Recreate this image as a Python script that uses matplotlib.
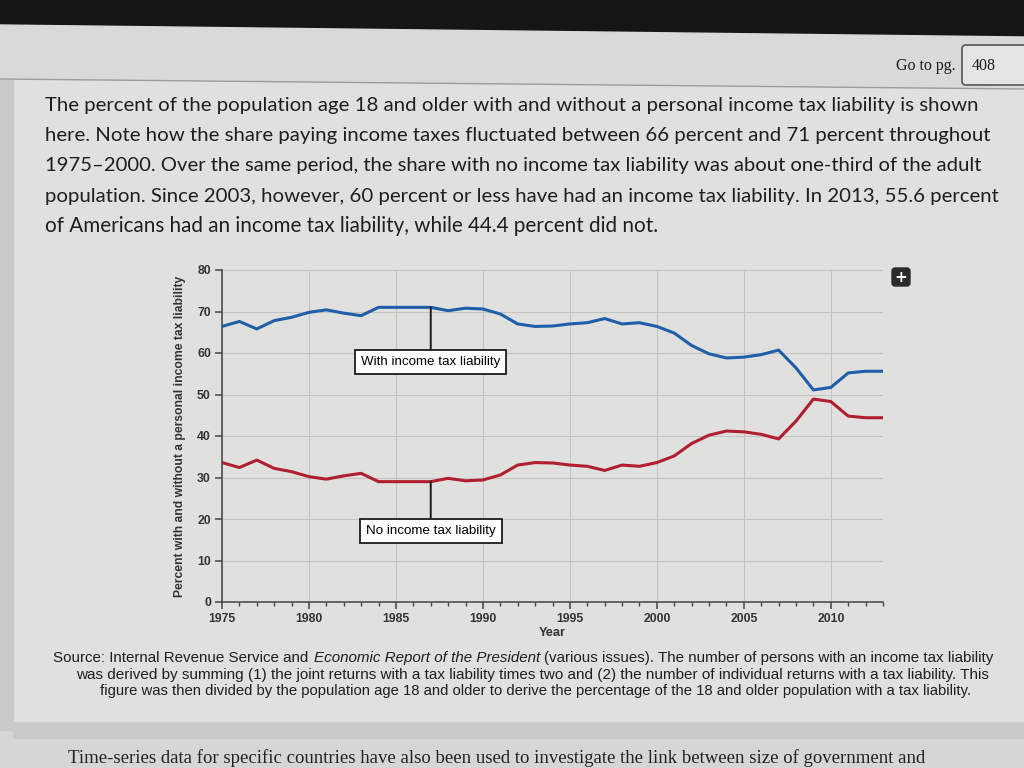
import matplotlib
matplotlib.use('Agg')
import matplotlib.pyplot as plt
from matplotlib.patches import Rectangle, Polygon, FancyBboxPatch
from matplotlib import font_manager

# data (percent of population 18+)
years = list(range(1975, 2014))
with_tax = [66.4, 67.6, 65.8, 67.8, 68.6, 69.8, 70.4, 69.6, 69.0, 71.0,
            71.0, 71.0, 71.0, 70.2, 70.8, 70.6, 69.4, 67.0, 66.4, 66.5,
            67.0, 67.3, 68.3, 67.0, 67.3, 66.4, 64.8, 61.8, 59.8, 58.8,
            59.0, 59.6, 60.7, 56.4, 51.1, 51.7, 55.2, 55.6, 55.6]
no_tax = [33.6, 32.4, 34.2, 32.2, 31.4, 30.2, 29.6, 30.4, 31.0, 29.0,
          29.0, 29.0, 29.0, 29.8, 29.2, 29.4, 30.6, 33.0, 33.6, 33.5,
          33.0, 32.7, 31.7, 33.0, 32.7, 33.6, 35.2, 38.2, 40.2, 41.2,
          41.0, 40.4, 39.3, 43.6, 48.9, 48.3, 44.8, 44.4, 44.4]
label_year = 1987
y_ticks = [0, 10, 20, 30, 40, 50, 60, 70, 80]
x_ticks = [1975, 1980, 1985, 1990, 1995, 2000, 2005, 2010]

para = [
    "The percent of the population age 18 and older with and without a personal income tax liability is shown",
    "here. Note how the share paying income taxes fluctuated between 66 percent and 71 percent throughout",
    "1975\u20132000. Over the same period, the share with no income tax liability was about one-third of the adult",
    "population. Since 2003, however, 60 percent or less have had an income tax liability. In 2013, 55.6 percent",
    "of Americans had an income tax liability, while 44.4 percent did not.",
]
source = [
    "was derived by summing (1) the joint returns with a tax liability times two and (2) the number of individual returns with a tax liability. This",
    "figure was then divided by the population age 18 and older to derive the percentage of the 18 and older population with a tax liability.",
]
next_line = "Time-series data for specific countries have also been used to investigate the link between size of government and"

installed = {f.name for f in font_manager.fontManager.ttflist}
narrow = 'Liberation Sans Narrow' if 'Liberation Sans Narrow' in installed else 'Liberation Sans'

fig = plt.figure(figsize=(10.24, 7.68), dpi=100)
bg = fig.add_axes([0, 0, 1, 1])
bg.set_xlim(0, 1024)
bg.set_ylim(768, 0)
bg.axis('off')
renderer = fig.canvas.get_renderer()

# page / screen background
bg.add_patch(Rectangle((0, 0), 1024, 768, color='#d6d6d4', zorder=0))
bg.add_patch(Polygon([(0, 0), (1024, 0), (1024, 37), (0, 25)], color='#151515', zorder=1))
bg.add_patch(Polygon([(0, 25), (1024, 37), (1024, 89), (0, 79)], color='#d9d9d7', zorder=1))
bg.add_patch(Polygon([(13, 80), (1024, 90), (1024, 722), (13, 722)], color='#e0e0de', zorder=1))
bg.add_patch(Rectangle((0, 80), 13, 650, color='#c9c9c7', zorder=1))
bg.add_patch(Polygon([(13, 722), (1024, 722), (1024, 738), (13, 738)], color='#cacac8', zorder=1))
bg.plot([0, 1024], [79, 89], color='#9c9c9a', lw=1, zorder=2)

# go to page box
bg.add_patch(FancyBboxPatch((962, 45), 80, 40, boxstyle='round,pad=0,rounding_size=4',
                            fc='#e4e4e2', ec='#555555', lw=1.2, zorder=3))
bg.text(955, 66, "Go to pg.", ha='right', va='center', family='Liberation Serif',
        fontsize=11.5, color='#1a1a1a', zorder=4)
bg.text(972, 66, "408", ha='left', va='center', family='Liberation Serif',
        fontsize=11.5, color='#1a1a1a', zorder=4)


def fitted(x, y, s, width, **kw):
    t = bg.text(x, y, s, zorder=4, **kw)
    w = t.get_window_extent(renderer).width
    t.set_fontsize(t.get_fontsize() * width / w)
    return t


# paragraph
para_widths = [937, 945, 943, 955, 614]
for i, (s, w) in enumerate(zip(para, para_widths)):
    fitted(45, 111 + 30.2 * i, s, w, ha='left', va='baseline', family='Lato',
           fontsize=14, color='#1e1e1e')

# source note, first line has an italic title
runs = [("Source: Internal Revenue Service and", 'normal'),
        ("Economic Report of the President", 'italic'),
        ("(various issues). The number of persons with an income tax liability", 'normal')]
base = 10
parts = []
for s, st in runs:
    t = bg.text(0, 0, s, fontsize=base, style=st, family=narrow)
    parts.append((t, t.get_window_extent(renderer).width))
gap = 0.27 * base * 100 / 72
total = sum(w for _, w in parts) + gap * (len(parts) - 1)
scale = 942 / total
xpos = 53
for t, w in parts:
    t.set_fontsize(base * scale)
    t.set_position((xpos, 662))
    t.set_va('baseline')
    t.set_color('#1e1e1e')
    t.set_zorder(4)
    xpos += w * scale + gap * scale
fitted(532, 679, source[0], 915, ha='center', va='baseline', family=narrow,
       fontsize=10, color='#1e1e1e')
fitted(536, 695, source[1], 877, ha='center', va='baseline', family=narrow,
       fontsize=10, color='#1e1e1e')

# next paragraph, at the photo's lower edge
fitted(68, 763, next_line, 862, ha='left', va='baseline', family='Liberation Serif',
       fontsize=14, color='#222222')

# expand button
bg.add_patch(FancyBboxPatch((892, 268), 18, 18, boxstyle='round,pad=0,rounding_size=3',
                            color='#2b2b2b', zorder=4))
bg.text(901, 277, "+", ha='center', va='center', color='white', fontsize=11,
        fontweight='bold', zorder=5)

# chart
ax = fig.add_axes([222 / 1024, 1 - 602 / 768, 661 / 1024, 332 / 768])
ax.patch.set_alpha(0)
ax.plot(years, with_tax, color='#1f5ea8', lw=2.2, zorder=3, solid_joinstyle='round')
ax.plot(years, no_tax, color='#b01e30', lw=2.2, zorder=3, solid_joinstyle='round')
ax.set_xlim(1975, 2013)
ax.set_ylim(0, 80)
ax.set_xticks(x_ticks)
ax.set_xticks(years, minor=True)
ax.set_yticks(y_ticks)
ax.grid(True, which='major', color='#c4c4c2', lw=0.8)
for sp in ['top', 'right']:
    ax.spines[sp].set_visible(False)
for sp in ['left', 'bottom']:
    ax.spines[sp].set_color('#444444')
    ax.spines[sp].set_linewidth(1.1)
ax.tick_params(which='major', length=5, width=1.1, color='#444444', labelsize=8.8,
               labelcolor='#333333', pad=3)
ax.tick_params(axis='x', which='minor', length=3, width=1.0, color='#444444')
for lab in ax.get_xticklabels() + ax.get_yticklabels():
    lab.set_fontweight('bold')
    lab.set_family('Liberation Sans')
ax.set_xlabel("Year", fontsize=9.2, fontweight='bold', color='#333333',
              family='Liberation Sans', labelpad=1)
ax.set_ylabel("Percent with and without a personal income tax liability", fontsize=8.7,
              fontweight='bold', color='#333333', family='Liberation Sans', labelpad=8)

i = years.index(label_year)
box = dict(boxstyle='square,pad=0.45', fc='white', ec='#1a1a1a', lw=1.3)
line = dict(arrowstyle='-', color='#1a1a1a', lw=1.4, shrinkA=0, shrinkB=0)
ax.annotate("With income tax liability", xy=(label_year, with_tax[i]), xytext=(label_year, 57.8),
            ha='center', va='center', fontsize=9.6, family='Liberation Sans', bbox=box,
            arrowprops=line, zorder=4)
ax.annotate("No income tax liability", xy=(label_year, no_tax[i]), xytext=(label_year, 17.2),
            ha='center', va='center', fontsize=9.6, family='Liberation Sans', bbox=box,
            arrowprops=line, zorder=4)

fig.savefig('out.png', dpi=100)
